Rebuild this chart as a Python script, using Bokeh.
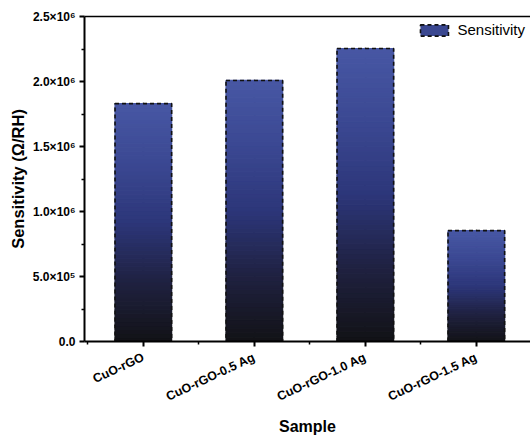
from bokeh.plotting import figure
from bokeh.models import FixedTicker, LinearAxis, Legend, LegendItem, ColumnDataSource
from bokeh.embed import file_html
from bokeh.resources import INLINE
import math

samples = ["CuO-rGO", "CuO-rGO-0.5 Ag", "CuO-rGO-1.0 Ag", "CuO-rGO-1.5 Ag"]
sensitivity = [1.83e6, 2.008e6, 2.254e6, 0.853e6]
y_ticks = [0, 5e5, 1.0e6, 1.5e6, 2.0e6, 2.5e6]
y_tick_labels = ["0.0", "5.0×10⁵", "1.0×10⁶", "1.5×10⁶", "2.0×10⁶", "2.5×10⁶"]

xs = list(range(1, len(samples) + 1))
BAR_W = 0.51

# vertical gradient stops (fraction of bar height -> colour)
stops = [(0.0, (0x12, 0x12, 0x16)), (0.25, (0x1f, 0x21, 0x40)), (0.5, (0x2c, 0x36, 0x79)),
         (0.75, (0x3b, 0x48, 0x92)), (1.0, (0x47, 0x57, 0xa4))]

def grad(f):
    for (f0, c0), (f1, c1) in zip(stops[:-1], stops[1:]):
        if f <= f1:
            t = (f - f0) / (f1 - f0)
            c = [round(a + (b - a) * t) for a, b in zip(c0, c1)]
            return "#%02x%02x%02x" % tuple(c)
    return "#%02x%02x%02x" % stops[-1][1]

N = 60
gx, gb, gt, gc = [], [], [], []
for x, v in zip(xs, sensitivity):
    for i in range(N):
        gx.append(x)
        gb.append(v * i / N)
        gt.append(v * (i + 1) / N)
        gc.append(grad((i + 0.5) / N))
grad_src = ColumnDataSource(dict(x=gx, bottom=gb, top=gt, color=gc))

p = figure(width=530, height=438, x_range=(0.47, 4.488), y_range=(0, 2.5e6),
           output_backend="svg", toolbar_location=None,
           min_border_left=84, min_border_right=0, min_border_top=16, min_border_bottom=97)
p.outline_line_color = None
p.grid.grid_line_color = None
p.background_fill_color = "white"

# legend proxy: thin bars hidden underneath the gradient bars
leg_r = p.vbar(x=xs, top=sensitivity, width=0.01, fill_color="#3a4790", line_color="#111111",
               line_width=1.6, line_dash="4 3")
p.vbar(x="x", bottom="bottom", top="top", width=BAR_W, fill_color="color",
       line_color="color", line_width=1.2, source=grad_src)
p.vbar(x=xs, top=sensitivity, width=BAR_W, fill_color=None, line_color="#111111",
       line_width=1.6, line_dash="4 3")

legend = Legend(items=[LegendItem(label="Sensitivity", renderers=[leg_r])],
                location="top_right", border_line_color=None, background_fill_alpha=0,
                label_text_font="Liberation Sans", label_text_font_size="15px",
                label_text_color="black",
                glyph_width=35, glyph_height=14, padding=0, margin=5, label_standoff=6)
p.add_layout(legend)

font = "Liberation Sans"
# x axis
xa = p.xaxis[0]
xa.ticker = FixedTicker(ticks=xs, minor_ticks=[x + 0.5 for x in xs] + [0.5])
xa.major_label_overrides = {x: s for x, s in zip(xs, samples)}
xa.major_label_orientation = math.radians(25)
xa.axis_label = "Sample"
# y axis
ya = p.yaxis[0]
ya.ticker = FixedTicker(ticks=y_ticks, minor_ticks=[t + 2.5e5 for t in y_ticks[:-1]])
ya.major_label_overrides = {t: s for t, s in zip(y_ticks, y_tick_labels)}
ya.axis_label = "Sensitivity (Ω/RH)"

for ax in (xa, ya):
    ax.axis_line_width = 2
    ax.axis_line_color = "black"
    ax.major_tick_line_width = 2
    ax.minor_tick_line_width = 1.5
    ax.major_tick_in = 0
    ax.major_tick_out = 5
    ax.minor_tick_in = 0
    ax.minor_tick_out = 3
    ax.major_label_text_font = font
    ax.major_label_text_font_style = "bold"
    ax.major_label_text_font_size = "12px"
    ax.major_label_text_color = "black"
    ax.axis_label_text_font = font
    ax.axis_label_text_font_style = "bold"
    ax.axis_label_text_font_size = "16px"
    ax.axis_label_text_color = "black"
xa.major_label_text_font_size = "12.5px"
ya.axis_label_text_font_size = "16.5px"
xa.axis_label_standoff = 5
xa.major_label_standoff = 10
ya.axis_label_standoff = 3
ya.major_label_standoff = 4

top = LinearAxis(ticker=FixedTicker(ticks=[]), axis_line_width=1.5, axis_line_color="black",
                 major_label_text_font_size="0px", major_tick_line_color=None,
                 minor_tick_line_color=None)
p.add_layout(top, "above")

open("out.html", "w").write(file_html(p, INLINE))
